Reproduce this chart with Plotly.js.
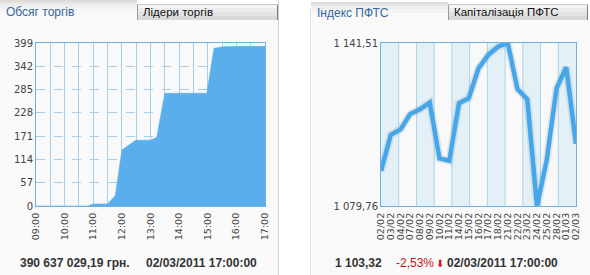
<!DOCTYPE html>
<html><head><meta charset="utf-8">
<script src="https://cdn.plot.ly/plotly-3.0.1.min.js"></script>
<style>html,body{margin:0;padding:0;background:#fff}#chart{width:590px;height:275px}</style>
</head><body><div id="chart"></div>
<script>
// ---- data ----
const volumeTimes = ['09:00','10:48','11:00','11:30','11:46','12:00','12:14','12:29','13:00','13:13','13:30','14:58','15:13','15:32','16:08','17:00'];
const volumeValues = [0,0,5,5,25,137,149,161,161,168,276,276,386,390,391,391];
const volumeTicks = [0,57,114,171,228,285,342,399];
const indexDates = ['02/02','03/02','04/02','07/02','08/02','09/02','10/02','11/02','14/02','15/02','16/02','17/02','18/02','21/02','22/02','23/02','24/02','25/02','28/02','01/03','02/03'];
const indexValues = [1093.1,1106.7,1108.8,1114.6,1116.4,1118.9,1097.8,1096.9,1118.7,1120.6,1131.9,1137.0,1140.1,1141.51,1124.0,1120.2,1079.76,1097.2,1124.3,1132.3,1103.32];
const indexTickVals = [1079.76,1141.51];
const indexTickText = ['1 079,76','1 141,51'];
const tabsLeft = ['Обсяг торгів','Лідери торгів'];
const tabsRight = ['Індекс ПФТС','Капіталізація ПФТС'];
const volumeTotal = '390 637 029,19 грн.';
const stamp = '02/03/2011 17:00:00';
const indexLast = '1 103,32';
const indexChange = '-2,53%';

// ---- helpers (pixel -> paper) ----
const W = 590, H = 275;
const px = x => x / W;
const py = y => 1 - y / H;

const shapes = [];
function rect(x0, y0, x1, y1, fill, lineColor, lw) {
  shapes.push({type:'rect', xref:'paper', yref:'paper', x0:px(x0), x1:px(x1), y0:py(y1), y1:py(y0),
    fillcolor:fill, line:{width:lw||0, color:lineColor||fill}, layer:'below'});
}
function seg(x0, y0, x1, y1, color, lw) {
  shapes.push({type:'line', xref:'paper', yref:'paper', x0:px(x0), x1:px(x1), y0:py(y0), y1:py(y1),
    line:{width:lw||1, color:color}, layer:'below'});
}
// panels
rect(0, 20, 278, 275, '#f9f9f9');
rect(310, 20, 590, 275, '#f9f9f9');
seg(278.5, 0, 278.5, 275, '#cfcfcf');
seg(310.5, 8, 310.5, 275, '#e4e4e4');
// active tabs (gradient approximated)
const grads = [['#dcdcdc',0,2],['#e6e6e6',2,4],['#eeeeee',4,7],['#f4f4f4',7,11],['#f9f9f9',11,20]];
grads.forEach(g => { rect(0, g[1], 137, g[2], g[0]); rect(311, g[1]+2, 448, g[2]+2 > 20 ? 20 : g[2]+2, g[0]); });
// inactive tabs
const igr = [['#f4f4f4',4,8],['#ebebeb',8,12],['#e2e2e2',12,16],['#d8d8d8',16,20]];
igr.forEach(g => { rect(137, g[1], 278, g[2], g[0]); rect(448, g[1], 588, g[2], g[0]); });
seg(137.5, 4, 137.5, 20, '#9a9a9a'); seg(277.5, 4, 277.5, 20, '#7a7a7a');
seg(137, 4.5, 278, 4.5, '#c8c8c8');
seg(448.5, 4, 448.5, 20, '#9a9a9a'); seg(587.5, 4, 587.5, 20, '#7a7a7a');
seg(448, 4.5, 588, 4.5, '#c8c8c8');

// index chart bands
const nBands = 11;
for (let k = 0; k < nBands; k++) {
  if (k % 2 === 0) shapes.push({type:'rect', xref:'x2 domain', yref:'y2 domain', x0:k/nBands, x1:(k+1)/nBands, y0:0, y1:1,
    fillcolor:'#e3f1f7', line:{width:0}, layer:'below'});
  if (k > 0) shapes.push({type:'line', xref:'x2 domain', yref:'y2 domain', x0:k/nBands, x1:k/nBands, y0:0, y1:1,
    line:{width:1, color:'#a9d4ea'}, layer:'below'});
}

const annotations = [];
function txt(x, y, text, size, color, bold, anchor) {
  annotations.push({xref:'paper', yref:'paper', x:px(x), y:py(y), xanchor:anchor||'left', yanchor:'middle',
    text: bold ? '<b>'+text+'</b>' : text, showarrow:false,
    font:{family:'Liberation Sans, Arial, sans-serif', size:size, color:color}});
}
txt(4, 12, tabsLeft[0], 12, '#34689c');
txt(141, 12, tabsLeft[1], 11.5, '#111');
txt(315, 13, tabsRight[0], 12, '#34689c');
txt(452, 12, tabsRight[1], 11.5, '#111');
txt(18, 263, volumeTotal, 12, '#333', true);
txt(144, 263, stamp, 12, '#333', true);
txt(333, 263, indexLast, 12, '#333', true);
txt(394, 263, indexChange, 12, '#c8141e', false);
txt(434, 263, '⬇', 10, '#c8141e', false);
txt(445, 263, stamp, 12, '#333', true);

const tickFont = {family:'DejaVu Sans, Verdana, sans-serif', size:10, color:'#444'};
const xTickFont = {family:'DejaVu Sans, Verdana, sans-serif', size:9.5, color:'#444'};
const borderColor = '#6cb1de';

const traces = [
  {type:'scatter', mode:'lines', x: volumeTimes.map(t => '2011-03-02 ' + t), y: volumeValues,
   fill:'tozeroy', fillcolor:'#5aaeec', line:{color:'#5aaeec', width:0.5}, xaxis:'x', yaxis:'y', hoverinfo:'skip'},
  {type:'scatter', mode:'lines', x: indexDates, y: indexValues, xaxis:'x2', yaxis:'y2',
   line:{color:'rgba(60,90,120,0.12)', width:8}, hoverinfo:'skip', cliponaxis:false},
  {type:'scatter', mode:'lines', x: indexDates, y: indexValues, xaxis:'x2', yaxis:'y2',
   line:{color:'#45a6e9', width:4.5}, hoverinfo:'skip', cliponaxis:false}
];

const layout = {
  width: W, height: H, margin:{l:0, r:0, t:0, b:0},
  paper_bgcolor:'#ffffff', plot_bgcolor:'#ffffff', showlegend:false,
  xaxis: {domain:[px(36), px(265)], anchor:'y', type:'date',
    range:['2011-03-02 09:00','2011-03-02 17:00'], dtick:3600000, tick0:'2011-03-02 09:00', tickformat:'%H:%M',
    tickangle:-90, tickfont:xTickFont, ticks:'', ticklabelstandoff:2, showgrid:true, gridcolor:'#a7cfe9', gridwidth:1,
    minor:{dtick:1800000, showgrid:true, gridcolor:'#a7cfe9', gridwidth:1},
    showline:true, linecolor:borderColor, linewidth:1, mirror:true, zeroline:false, fixedrange:true},
  yaxis: {domain:[py(206), py(43)], anchor:'x', range:[0, 399], tickvals: volumeTicks, ticktext: volumeTicks.map(String),
    tickfont:tickFont, ticks:'', showgrid:true, gridcolor:'#a7cfe9', griddash:'dash', gridwidth:1,
    showline:true, linecolor:borderColor, linewidth:1, mirror:true, zeroline:false, fixedrange:true},
  xaxis2: {domain:[px(381), px(576)], anchor:'y2', type:'category', range:[0, indexDates.length-1],
    tickmode:'array', tickvals: indexDates, ticktext: indexDates,
    tickangle:-90, tickfont:xTickFont, ticks:'', ticklabelstandoff:2, showgrid:false,
    showline:true, linecolor:borderColor, linewidth:1, mirror:true, zeroline:false, fixedrange:true},
  yaxis2: {domain:[py(206), py(43)], anchor:'x2', range:[indexTickVals[0], indexTickVals[1]],
    tickvals: indexTickVals, ticktext: indexTickText, tickfont:tickFont, ticks:'', showgrid:false,
    showline:true, linecolor:borderColor, linewidth:1, mirror:true, zeroline:false, fixedrange:true},
  shapes: shapes, annotations: annotations
};
Plotly.newPlot('chart', traces, layout, {displayModeBar:false, staticPlot:true});
</script></body></html>
